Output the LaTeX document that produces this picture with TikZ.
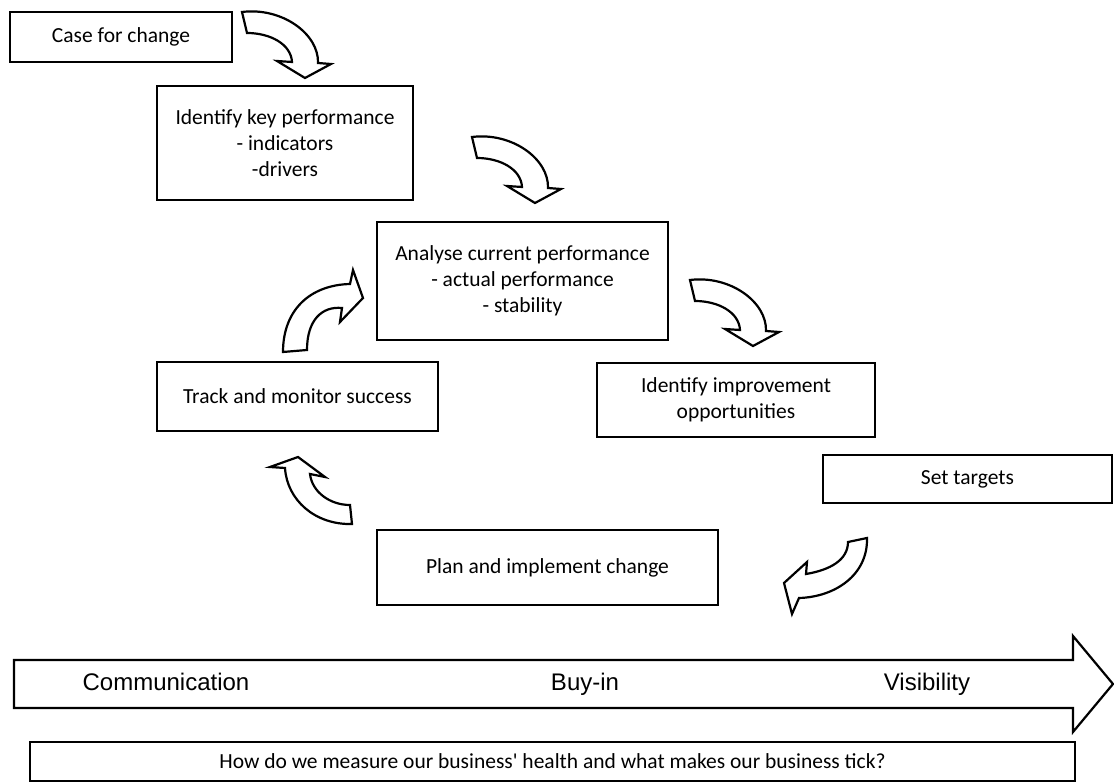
\documentclass[tikz,border=0pt]{standalone}
\usepackage{fontspec}
\setmainfont{Carlito}[Ligatures=TeXOff]
\newfontfamily\arialf{Liberation Sans}
\begin{document}
\begin{tikzpicture}[x=1pt,y=-1pt,
  box/.style={draw,line width=2pt,align=center,font=\fontsize{21.5}{26}\selectfont,inner sep=0pt},
  carrow/.style={draw,line width=2.2pt,fill=white,line join=miter},
  lbl/.style={font=\arialf\fontsize{24}{28}\selectfont,inner sep=0pt,text height=17pt,text depth=5pt},
  pics/drarrow/.style={code={\draw[carrow] (0,0) .. controls (40,-5) and (77,22) .. (76,51) -- (89,52) -- (63,66) -- (35,49) -- (50,50) .. controls (49,32) and (28,21) .. (5,21) -- cycle;}}
]
\useasboundingbox (0,0) rectangle (1114,783);
\fill[white] (0,0) rectangle (1114,783);

\node[box,minimum width=222pt,minimum height=50pt] (case) at (121,37) {Case for change};
\node[box,minimum width=256pt,minimum height=114pt] (kpi) at (285,143) {Identify key performance\\- indicators\\-drivers};
\node[box,minimum width=291pt,minimum height=118pt] (analyse) at (522.5,281) {Analyse current performance\\- actual performance\\- stability};
\node[box,minimum width=281pt,minimum height=69pt] (track) at (297.5,396.5) {Track and monitor success};
\node[box,minimum width=278pt,minimum height=74pt] (improve) at (736,400) {Identify improvement\\opportunities};
\node[box,minimum width=289pt,minimum height=48pt] (targets) at (967.5,479) {Set targets};
\node[box,minimum width=341pt,minimum height=75pt] (plan) at (547.5,567.5) {Plan and implement change};
\node[box,minimum width=1045pt,minimum height=39pt] (question) at (552.5,761.5) {How do we measure our business' health and what makes our business tick?};

% curved block arrows
\pic at (242,12) {drarrow};
\pic at (472,137) {drarrow};
\pic at (690,280) {drarrow};
\draw[carrow] (283,352) .. controls (283,310) and (310,285) .. (350,284) -- (353,270) -- (363,298) -- (340,322) -- (342,308) .. controls (322,306) and (307,320) .. (307,350) -- cycle;
\draw[carrow] (298,457) -- (270,467) -- (285,468) .. controls (287,500) and (315,525) .. (352,524) -- (350,505) .. controls (330,505) and (312,492) .. (310,474) -- (325,477) -- cycle;
\draw[carrow] (867,538) .. controls (868,575) and (835,597) .. (799,598) -- (792,614) -- (784,583) -- (807,562) -- (806,574) .. controls (830,570) and (848,560) .. (848,542) -- cycle;

% big arrow
\draw[carrow] (14,660) -- (1073,660) -- (1073,636) -- (1113,684) -- (1073,732) -- (1073,708) -- (14,708) -- cycle;
\node[lbl] (comm) at (166,684) {Communication};
\node[lbl] (buy) at (585,684) {Buy-in};
\node[lbl] (vis) at (927,684) {Visibility};
\end{tikzpicture}
\end{document}
